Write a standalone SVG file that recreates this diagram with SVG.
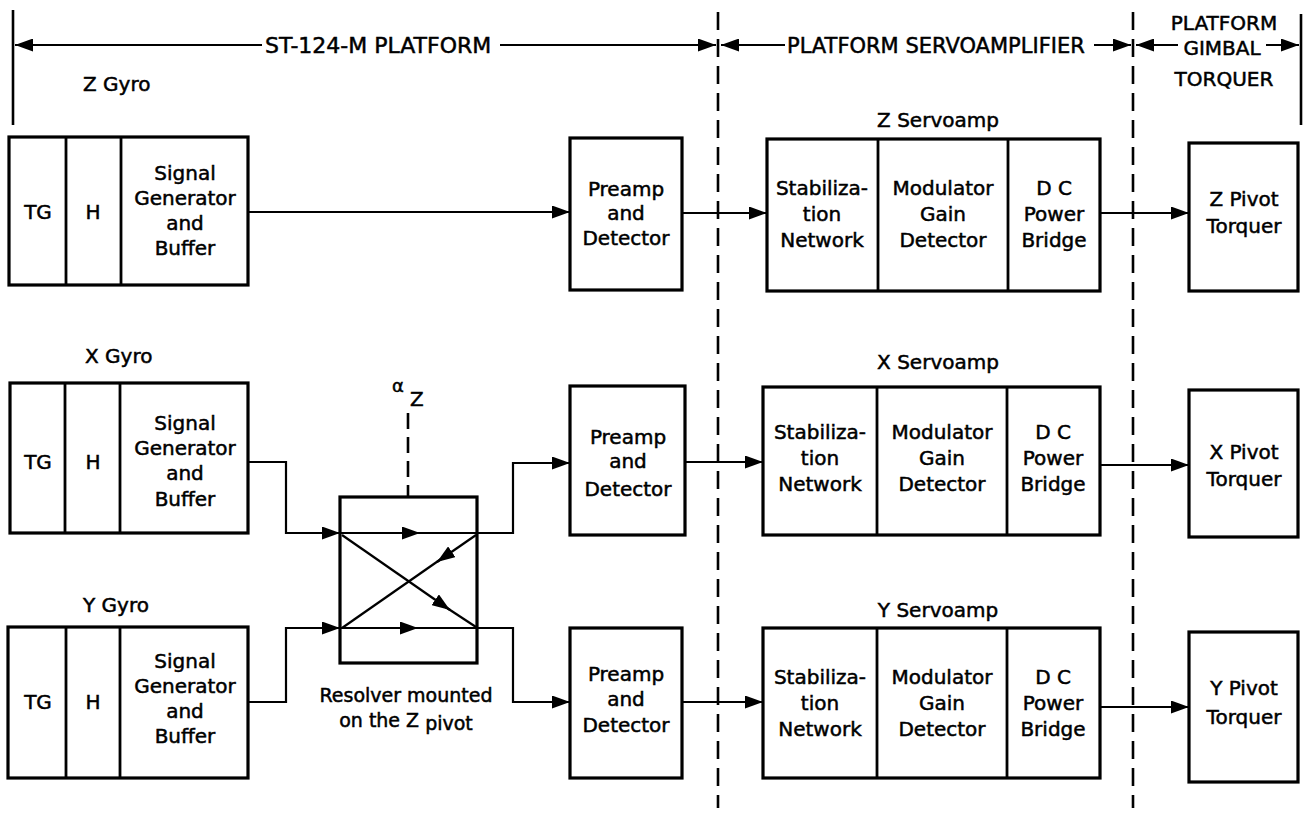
<svg xmlns="http://www.w3.org/2000/svg" width="1305" height="817" viewBox="0 0 1305 817">
<style>
.box{fill:#fff;stroke:#000;stroke-width:3.2}
.dv{stroke:#000;stroke-width:2.8}
.w{fill:none;stroke:#000;stroke-width:2.2}
.ds{fill:none;stroke:#000;stroke-width:2.6;stroke-dasharray:18 9}
.ln{fill:none;stroke:#000;stroke-width:2.6}
text{font-family:"DejaVu Sans","Liberation Sans",sans-serif;font-size:20px;fill:#000;stroke:#000;stroke-width:0.5}
.c{text-anchor:middle}
.t{font-size:22px}
.s{font-size:18px}
</style>
<defs>
<marker id="ah" viewBox="0 0 18 13" refX="18" refY="6.5" markerWidth="18" markerHeight="13" markerUnits="userSpaceOnUse" orient="auto-start-reverse">
<path d="M0,0 L18,6.5 L0,13 z" fill="#000"/>
</marker>
</defs>
<rect width="1305" height="817" fill="#fff"/>

<g id="boundaries">
<line class="ln" x1="13" y1="10" x2="13" y2="125"/>
<line class="ln" x1="1301" y1="14" x2="1301" y2="125"/>
<line class="ds" x1="718" y1="12" x2="718" y2="808"/>
<line class="ds" x1="1133" y1="12" x2="1133" y2="808"/>
</g>

<g id="headers">
<path class="w" d="M262,45 H15" marker-end="url(#ah)"/>
<text class="t" x="265" y="53">ST-124-M PLATFORM</text>
<path class="w" d="M500,45 H716" marker-end="url(#ah)"/>
<path class="w" d="M785,45 H721" marker-end="url(#ah)"/>
<text x="787" y="53" style="font-size:21px">PLATFORM SERVOAMPLIFIER</text>
<path class="w" d="M1094,45 H1131" marker-end="url(#ah)"/>
<text class="c" x="1224" y="30">PLATFORM</text>
<path class="w" d="M1178,45 H1136" marker-end="url(#ah)"/>
<text class="c" x="1222" y="55">GIMBAL</text>
<path class="w" d="M1266,45 H1299" marker-end="url(#ah)"/>
<text class="c" x="1224" y="86">TORQUER</text>
</g>

<g id="connectors">
<path class="w" d="M248,212 H570" marker-end="url(#ah)"/>
<path class="w" d="M682,213 H767" marker-end="url(#ah)"/>
<path class="w" d="M1100,213 H1189" marker-end="url(#ah)"/>

<path class="w" d="M248,462 H286 V533 H340" marker-end="url(#ah)"/>
<path class="w" d="M477,533 H513 V463 H570" marker-end="url(#ah)"/>
<path class="w" d="M685,462 H763" marker-end="url(#ah)"/>
<path class="w" d="M1100,465 H1189" marker-end="url(#ah)"/>

<path class="w" d="M248,702 H286 V628 H340" marker-end="url(#ah)"/>
<path class="w" d="M477,628 H513 V702 H570" marker-end="url(#ah)"/>
<path class="w" d="M682,702 H763" marker-end="url(#ah)"/>
<path class="w" d="M1100,707 H1189" marker-end="url(#ah)"/>
</g>

<g id="z-gyro">
<text x="83" y="91">Z Gyro</text>
<rect class="box" x="9" y="137" width="239" height="148"/>
<line class="dv" x1="66" y1="137" x2="66" y2="285"/>
<line class="dv" x1="121" y1="137" x2="121" y2="285"/>
<text class="c" x="38" y="219">TG</text>
<text class="c" x="93" y="219">H</text>
<text class="c" x="185" y="180">Signal</text>
<text class="c" x="185" y="205">Generator</text>
<text class="c" x="185" y="230">and</text>
<text class="c" x="185" y="255">Buffer</text>
</g>

<g id="z-preamp">
<rect class="box" x="570" y="138" width="112" height="152"/>
<text class="c" x="626" y="196">Preamp</text>
<text class="c" x="626" y="220">and</text>
<text class="c" x="626" y="245">Detector</text>
</g>

<g id="z-servoamp">
<text class="c" x="938" y="127">Z Servoamp</text>
<rect class="box" x="767" y="139" width="333" height="152"/>
<line class="dv" x1="878" y1="139" x2="878" y2="291"/>
<line class="dv" x1="1008" y1="139" x2="1008" y2="291"/>
<text class="c" x="822" y="195">Stabiliza-</text>
<text class="c" x="822" y="221">tion</text>
<text class="c" x="822" y="247">Network</text>
<text class="c" x="943" y="195">Modulator</text>
<text class="c" x="943" y="221">Gain</text>
<text class="c" x="943" y="247">Detector</text>
<text class="c" x="1054" y="195">D C</text>
<text class="c" x="1054" y="221">Power</text>
<text class="c" x="1054" y="247">Bridge</text>
</g>

<g id="z-torquer">
<rect class="box" x="1189" y="143" width="109" height="148"/>
<text class="c" x="1244" y="206">Z Pivot</text>
<text class="c" x="1244" y="233">Torquer</text>
</g>

<g id="x-gyro">
<text x="85" y="363">X Gyro</text>
<rect class="box" x="10" y="383" width="238" height="150"/>
<line class="dv" x1="65" y1="383" x2="65" y2="533"/>
<line class="dv" x1="120" y1="383" x2="120" y2="533"/>
<text class="c" x="38" y="469">TG</text>
<text class="c" x="93" y="469">H</text>
<text class="c" x="185" y="430">Signal</text>
<text class="c" x="185" y="455">Generator</text>
<text class="c" x="185" y="480">and</text>
<text class="c" x="185" y="506">Buffer</text>
</g>

<g id="x-preamp">
<rect class="box" x="570" y="386" width="115" height="149"/>
<text class="c" x="628" y="444">Preamp</text>
<text class="c" x="628" y="468">and</text>
<text class="c" x="628" y="496">Detector</text>
</g>

<g id="x-servoamp">
<text class="c" x="938" y="369">X Servoamp</text>
<rect class="box" x="763" y="387" width="337" height="148"/>
<line class="dv" x1="877" y1="387" x2="877" y2="535"/>
<line class="dv" x1="1007" y1="387" x2="1007" y2="535"/>
<text class="c" x="820" y="439">Stabiliza-</text>
<text class="c" x="820" y="465">tion</text>
<text class="c" x="820" y="491">Network</text>
<text class="c" x="942" y="439">Modulator</text>
<text class="c" x="942" y="465">Gain</text>
<text class="c" x="942" y="491">Detector</text>
<text class="c" x="1053" y="439">D C</text>
<text class="c" x="1053" y="465">Power</text>
<text class="c" x="1053" y="491">Bridge</text>
</g>

<g id="x-torquer">
<rect class="box" x="1189" y="390" width="109" height="147"/>
<text class="c" x="1244" y="459">X Pivot</text>
<text class="c" x="1244" y="486">Torquer</text>
</g>

<g id="resolver">
<line class="ds" x1="408" y1="413" x2="408" y2="497" style="stroke-dasharray:16 8"/>
<text class="s" x="392" y="392">α</text>
<text x="410" y="406">Z</text>
<rect class="box" x="340" y="497" width="137" height="166"/>
<path class="w" d="M340,533 H420" marker-end="url(#ah)"/>
<path class="w" d="M415,533 H477"/>
<path class="w" d="M340,628 H418" marker-end="url(#ah)"/>
<path class="w" d="M413,628 H477"/>
<path class="w" d="M342,535 L450,610" marker-end="url(#ah)"/>
<path class="w" d="M444,606 L476,627"/>
<path class="w" d="M476,535 L437,562" marker-end="url(#ah)"/>
<path class="w" d="M441,559 L342,628"/>
<text class="c" x="406" y="702" style="font-size:19px">Resolver mounted</text>
<text class="c" x="406" y="727" style="font-size:19px">on the Z <tspan dy="3">pivot</tspan></text>
</g>

<g id="y-gyro">
<text x="83" y="612">Y Gyro</text>
<rect class="box" x="8" y="627" width="240" height="151"/>
<line class="dv" x1="66" y1="627" x2="66" y2="778"/>
<line class="dv" x1="120" y1="627" x2="120" y2="778"/>
<text class="c" x="38" y="709">TG</text>
<text class="c" x="93" y="709">H</text>
<text class="c" x="185" y="668">Signal</text>
<text class="c" x="185" y="693">Generator</text>
<text class="c" x="185" y="718">and</text>
<text class="c" x="185" y="743">Buffer</text>
</g>

<g id="y-preamp">
<rect class="box" x="570" y="628" width="112" height="150"/>
<text class="c" x="626" y="681">Preamp</text>
<text class="c" x="626" y="706">and</text>
<text class="c" x="626" y="732">Detector</text>
</g>

<g id="y-servoamp">
<text class="c" x="938" y="617">Y Servoamp</text>
<rect class="box" x="763" y="628" width="337" height="150"/>
<line class="dv" x1="877" y1="628" x2="877" y2="778"/>
<line class="dv" x1="1007" y1="628" x2="1007" y2="778"/>
<text class="c" x="820" y="684">Stabiliza-</text>
<text class="c" x="820" y="710">tion</text>
<text class="c" x="820" y="736">Network</text>
<text class="c" x="942" y="684">Modulator</text>
<text class="c" x="942" y="710">Gain</text>
<text class="c" x="942" y="736">Detector</text>
<text class="c" x="1053" y="684">D C</text>
<text class="c" x="1053" y="710">Power</text>
<text class="c" x="1053" y="736">Bridge</text>
</g>

<g id="y-torquer">
<rect class="box" x="1189" y="632" width="109" height="150"/>
<text class="c" x="1244" y="695">Y Pivot</text>
<text class="c" x="1244" y="724">Torquer</text>
</g>
</svg>
